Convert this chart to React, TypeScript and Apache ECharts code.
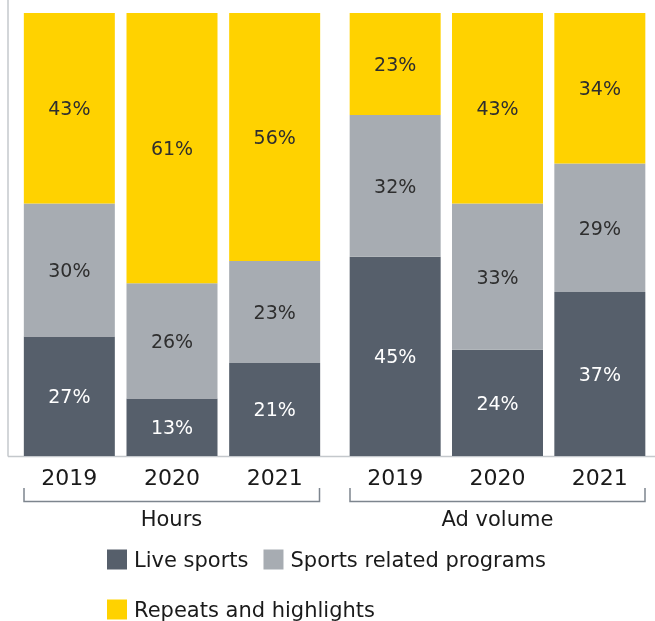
import React, { useEffect, useRef } from "react";
import * as echarts from "echarts";

const years = ["2019", "2020", "2021"];
const groups = ["Hours", "Ad volume"];
const seriesNames = ["Live sports", "Sports related programs", "Repeats and highlights"];
const liveHours = [27, 13, 21];
const relatedHours = [30, 26, 23];
const repeatsHours = [43, 61, 56];
const liveAd = [45, 24, 37];
const relatedAd = [32, 33, 29];
const repeatsAd = [23, 43, 34];

const COLORS = ["#565f6b", "#a7acb2", "#ffd200"];
const FONT = "DejaVu Sans";

export default function App() {
  const ref = useRef<HTMLDivElement>(null);
  useEffect(() => {
    if (!ref.current) return;
    const chart = echarts.init(ref.current, null, { renderer: "svg" });
    const mk = (name: string, data: number[], idx: number, ci: number) => ({
      name,
      type: "bar",
      stack: "s" + idx,
      xAxisIndex: idx,
      yAxisIndex: idx,
      barWidth: 91,
      data,
      itemStyle: { color: COLORS[ci] },
      label: {
        show: true,
        position: "inside",
        formatter: "{c}%",
        color: ci === 0 ? "#ffffff" : "#2e2e2e",
        fontFamily: FONT,
        fontSize: 19,
      },
    });
    const hoursData = [liveHours, relatedHours, repeatsHours];
    const adData = [liveAd, relatedAd, repeatsAd];
    const series: any[] = [];
    hoursData.forEach((d, i) => series.push(mk(seriesNames[i], d, 0, i)));
    adData.forEach((d, i) => series.push(mk(seriesNames[i], d, 1, i)));

    const xAx = (gi: number) => ({
      type: "category",
      gridIndex: gi,
      data: years,
      axisLine: { show: false },
      axisTick: { show: false },
      axisLabel: { color: "#1a1a1a", fontFamily: FONT, fontSize: 22, margin: 10 },
    });
    const yAx = (gi: number) => ({
      type: "value",
      gridIndex: gi,
      min: 0,
      max: 100,
      show: false,
    });
    const bracketColor = "#7d858e";
    const bracket = (x1: number, x2: number) => ({
      type: "polyline",
      shape: { points: [[x1, 488], [x1, 501.5], [x2, 501.5], [x2, 488]] },
      style: { stroke: bracketColor, lineWidth: 1.5, fill: null },
    });
    const legendText = {
      fontFamily: FONT,
      fontSize: 21,
      lineHeight: 20,
      color: "#1a1a1a",
      padding: [0, 0, 0, 2],
    };

    chart.setOption({
      animation: false,
      grid: [
        { left: 18, top: 13, width: 308, height: 443 },
        { left: 344, top: 13, width: 307, height: 443 },
      ],
      xAxis: [xAx(0), xAx(1)],
      yAxis: [yAx(0), yAx(1)],
      legend: [
        {
          data: seriesNames.slice(0, 2),
          left: 107,
          top: 549,
          padding: 0,
          itemWidth: 20,
          itemHeight: 20,
          itemGap: 15,
          icon: "rect",
          textStyle: legendText,
        },
        {
          data: seriesNames.slice(2),
          left: 107,
          top: 599,
          padding: 0,
          itemWidth: 20,
          itemHeight: 20,
          icon: "rect",
          textStyle: legendText,
        },
      ],
      graphic: [
        {
          type: "line",
          shape: { x1: 8, y1: 0, x2: 8, y2: 456.5 },
          style: { stroke: "#c4c8cc", lineWidth: 1.5 },
        },
        {
          type: "line",
          shape: { x1: 8, y1: 456.5, x2: 655, y2: 456.5 },
          style: { stroke: "#c4c8cc", lineWidth: 1.5 },
        },
        bracket(24, 319.5),
        bracket(350, 645),
        {
          type: "text",
          x: 171.5,
          y: 519,
          style: {
            text: groups[0],
            fill: "#1a1a1a",
            font: `21px "${FONT}"`,
            textAlign: "center",
            textVerticalAlign: "middle",
          },
        },
        {
          type: "text",
          x: 497.5,
          y: 519,
          style: {
            text: groups[1],
            fill: "#1a1a1a",
            font: `21px "${FONT}"`,
            textAlign: "center",
            textVerticalAlign: "middle",
          },
        },
      ],
      series,
    });
    return () => chart.dispose();
  }, []);
  return (
    <div
      ref={ref}
      style={{ position: "fixed", left: 0, top: 0, width: 655, height: 621 }}
    />
  );
}
